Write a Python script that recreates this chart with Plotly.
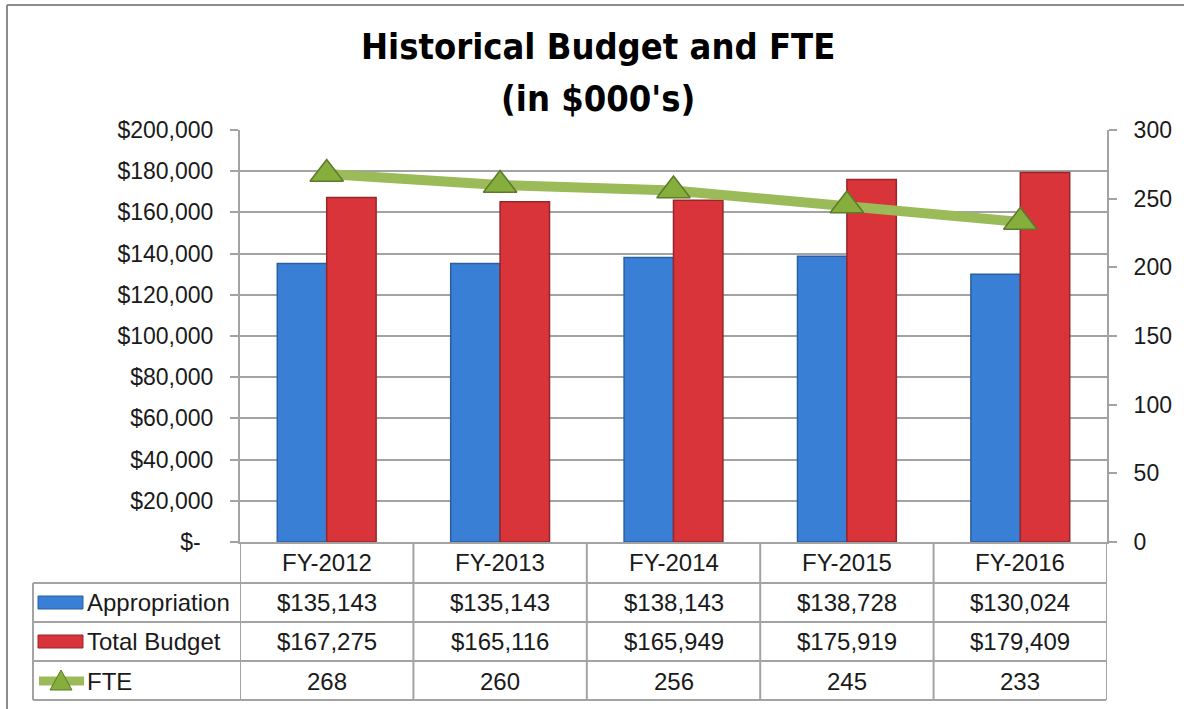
import plotly.graph_objects as go

# ---------------- data ----------------
categories = ["FY-2012", "FY-2013", "FY-2014", "FY-2015", "FY-2016"]
appropriation = [135143, 135143, 138143, 138728, 130024]
total_budget = [167275, 165116, 165949, 175919, 179409]
fte = [268, 260, 256, 245, 233]
series_names = ["Appropriation", "Total Budget", "FTE"]
left_tickvals = [0, 20000, 40000, 60000, 80000, 100000, 120000, 140000, 160000, 180000, 200000]
left_ticktext = ["$-\u00a0\u00a0", "$20,000", "$40,000", "$60,000", "$80,000", "$100,000",
                 "$120,000", "$140,000", "$160,000", "$180,000", "$200,000"]
right_tickvals = [0, 50, 100, 150, 200, 250, 300]

# ---------------- layout constants ----------------
W, H = 1184, 709
L, R, T, B = 240, 1107, 130, 542
FONT = "Liberation Sans, Arial, sans-serif"
TITLE_FONT = "Noto Sans Condensed, Liberation Sans Narrow, DejaVu Sans Condensed, sans-serif"
GRID = "#a3a3a3"
BLUE = "#3a7fd6"
RED = "#d8343a"
GREEN_LINE = "#9bbb59"
GREEN_MARK = "#86ae3c"


def px(x):
    return (x - L) / (R - L)


def py(y):
    return (B - y) / (B - T)


fig = go.Figure()

fig.add_trace(go.Bar(
    x=categories, y=appropriation, name=series_names[0],
    marker=dict(color=BLUE, line=dict(color="#2b5f9e", width=1.5)),
    showlegend=False,
))
fig.add_trace(go.Bar(
    x=categories, y=total_budget, name=series_names[1],
    marker=dict(color=RED, line=dict(color="#962628", width=1.5)),
    showlegend=False,
))
fig.add_trace(go.Scatter(
    x=categories, y=fte, name=series_names[2], yaxis="y2",
    mode="lines+markers",
    line=dict(color=GREEN_LINE, width=10),
    marker=dict(symbol="triangle-up", size=29, color=GREEN_MARK,
                line=dict(color="#5b7a2a", width=1.5)),
    showlegend=False,
))

shapes = []
annotations = []
line_style = dict(color=GRID, width=2)

# table horizontal lines
row_y = [583, 622, 661, 700]
for yy in row_y:
    shapes.append(dict(type="line", xref="paper", yref="paper",
                       x0=px(33), x1=px(1106), y0=py(yy), y1=py(yy), line=line_style))
# left edge of table
shapes.append(dict(type="line", xref="paper", yref="paper",
                   x0=px(33), x1=px(33), y0=py(583), y1=py(700), line=line_style))
# column dividers (category boundaries)
for i in range(len(categories) + 1):
    shapes.append(dict(type="line", xref="x", yref="paper",
                       x0=i - 0.5, x1=i - 0.5, y0=0, y1=py(700), line=line_style))

# outer chart border (top & left visible)
shapes.append(dict(type="line", xref="paper", yref="paper",
                   x0=px(7), x1=px(1200), y0=py(5), y1=py(5), line=dict(color="#8c8c8c", width=2)))
shapes.append(dict(type="line", xref="paper", yref="paper",
                   x0=px(7), x1=px(7), y0=py(5), y1=py(720), line=dict(color="#8c8c8c", width=2)))

# legend keys in table
shapes.append(dict(type="rect", xref="paper", yref="paper",
                   x0=px(38), x1=px(83), y0=py(596), y1=py(609),
                   fillcolor=BLUE, line=dict(color="#2b5f9e", width=1)))
shapes.append(dict(type="rect", xref="paper", yref="paper",
                   x0=px(38), x1=px(83), y0=py(635), y1=py(648),
                   fillcolor=RED, line=dict(color="#962628", width=1)))
shapes.append(dict(type="line", xref="paper", yref="paper",
                   x0=px(39), x1=px(84), y0=py(681), y1=py(681),
                   line=dict(color=GREEN_LINE, width=9)))
x0p, x1p, xm = px(50), px(72), px(61)
shapes.append(dict(type="path", xref="paper", yref="paper",
                   path=f"M {x0p} {py(690)} L {x1p} {py(690)} L {xm} {py(670)} Z",
                   fillcolor=GREEN_MARK, line=dict(color="#5b7a2a", width=1)))

tfont = dict(family=FONT, size=24, color="#1a1a1a")
# table header (categories)
for i, c in enumerate(categories):
    annotations.append(dict(x=c, xref="x", y=py(562), yref="paper", text=c,
                            showarrow=False, font=tfont, xanchor="center", yanchor="middle"))
# row labels
row_centers = [602, 641, 681]
for name, yc in zip(series_names, row_centers):
    annotations.append(dict(x=px(85), xref="paper", y=py(yc), yref="paper", text=name,
                            showarrow=False, font=tfont, xanchor="left", yanchor="middle"))
rows = [[f"${v:,}" for v in appropriation],
        [f"${v:,}" for v in total_budget],
        [f"{v}" for v in fte]]
for vals, yc in zip(rows, row_centers):
    for c, v in zip(categories, vals):
        annotations.append(dict(x=c, xref="x", y=py(yc), yref="paper", text=v,
                                showarrow=False, font=tfont, xanchor="center", yanchor="middle"))

# title
for txt, yc in [("<b>Historical Budget and FTE</b>", 46), ("<b>(in $000's)</b>", 99)]:
    annotations.append(dict(x=px(598), xref="paper", y=py(yc), yref="paper",
                            text=txt, showarrow=False,
                            font=dict(family=TITLE_FONT, size=36, color="#000"),
                            xanchor="center", yanchor="middle"))

fig.update_layout(
    width=W, height=H,
    margin=dict(l=L, r=W - R, t=T, b=H - B, pad=0),
    paper_bgcolor="white", plot_bgcolor="white",
    barmode="group", bargap=0.43, bargroupgap=0,
    font=dict(family=FONT, size=24, color="#1a1a1a"),
    xaxis=dict(type="category", range=[-0.5, len(categories) - 0.5],
               showticklabels=False, showline=True, linecolor=GRID, linewidth=2,
               showgrid=False, ticks="", zeroline=False),
    yaxis=dict(range=[0, 200000], tickvals=left_tickvals, ticktext=left_ticktext,
               showgrid=True, gridcolor=GRID, gridwidth=1.5,
               showline=True, linecolor=GRID, linewidth=2,
               ticks="outside", ticklen=8, tickcolor=GRID, tickwidth=2,
               ticklabelstandoff=12, zeroline=False,
               tickfont=dict(family=FONT, size=23, color="#1a1a1a")),
    yaxis2=dict(range=[0, 300], tickvals=right_tickvals, overlaying="y", side="right",
                showgrid=False, showline=True, linecolor=GRID, linewidth=2,
                ticks="outside", ticklen=8, tickcolor=GRID, tickwidth=2,
                ticklabelstandoff=12, zeroline=False,
                tickfont=dict(family=FONT, size=23, color="#1a1a1a")),
    shapes=shapes,
    annotations=annotations,
)

fig.write_html("out.html", config={"displayModeBar": False},
               post_script="document.body.style.margin='0';document.body.style.overflow='hidden';")
